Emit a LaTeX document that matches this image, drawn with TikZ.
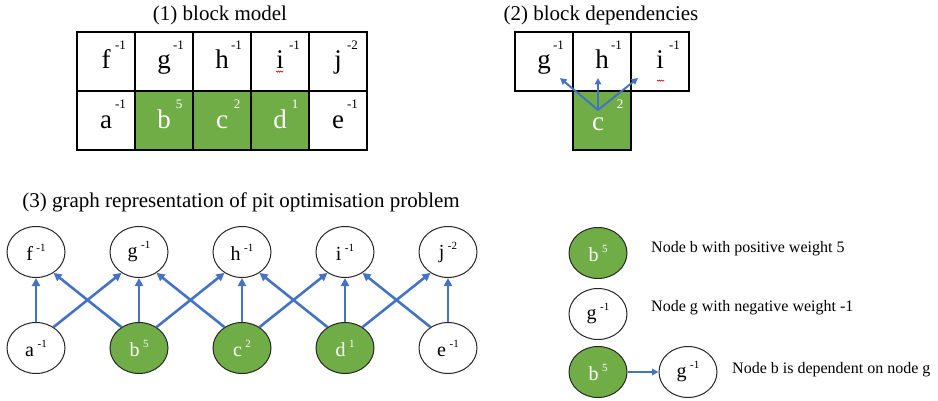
\documentclass[tikz,border=0pt]{standalone}
\usepackage{fontspec}
\setmainfont{Liberation Serif}
\usetikzlibrary{shapes.geometric,arrows.meta}
\definecolor{pgreen}{HTML}{70AD47}
\definecolor{pblue}{HTML}{4472C4}
\newcommand{\wt}[2]{#1\hspace{3.5pt}\raisebox{0.45em}{\fontsize{11}{11}\selectfont #2}}
\begin{document}
\begin{tikzpicture}[x=1pt,y=1pt,
  ttl/.style={font=\fontsize{21}{21}\selectfont, inner sep=0pt},
  cell/.style={draw=black, line width=1.3pt, minimum width=58pt, minimum height=59pt, inner sep=0pt},
  gcell/.style={cell, fill=pgreen},
  let/.style={font=\fontsize{27}{27}\selectfont, inner sep=0pt, anchor=base},
  wlet/.style={let, text=white},
  sup/.style={font=\fontsize{13}{13}\selectfont, inner sep=0pt},
  wsup/.style={sup, text=white},
  vtx/.style={ellipse, draw=black!85, line width=1pt, minimum width=58pt, minimum height=51pt, inner sep=0pt, fill=white, font=\fontsize{20}{20}\selectfont},
  gvtx/.style={vtx, fill=pgreen, text=white},
  dep/.style={draw=pblue, line width=2.6pt, -{Triangle[length=8pt,width=8pt]}},
  sdep/.style={draw=pblue, line width=2pt, -{Triangle[length=6.5pt,width=6.5pt]}},
  legtxt/.style={font=\fontsize{16}{16}\selectfont, inner sep=0pt, anchor=west},
  spell/.style={draw=red!80!black, line width=0.6pt}
]
\useasboundingbox (0,0) rectangle (938,400);

% ---------- (1) block model ----------
\node[ttl] (t1) at (220,385) {(1) block model};
\foreach \n/\x in {f/106,g/164,h/222,i/280,j/338} {
  \node[cell] (c\n) at (\x,338.5) {};
}
\foreach \n/\x in {a/106,b/164,c/222,d/280,e/338} {
  \node[cell] (c\n) at (\x,279.5) {};
}
\node[gcell] (cb) at (164,279.5) {};
\node[gcell] (cc) at (222,279.5) {};
\node[gcell] (cd) at (280,279.5) {};
\foreach \n/\w in {f/-1,g/-1,h/-1,i/-1,j/-2,a/-1,e/-1} {
  \node[let] (l\n) at ([yshift=-7.5pt]c\n.center) {\n};
  \node[sup] (s\n) at ([xshift=14.5pt,yshift=16pt]c\n.center) {\w};
}
\foreach \n/\w in {b/5,c/2,d/1} {
  \node[wlet] (l\n) at ([yshift=-7.5pt]c\n.center) {\n};
  \node[wsup] (s\n) at ([xshift=15pt,yshift=16pt]c\n.center) {\w};
}
\draw[spell] (276,329) -- (277.2,327.8) -- (278.4,329) -- (279.6,327.8) -- (280.8,329) -- (282,327.8) -- (283.2,329);

% ---------- (2) block dependencies ----------
\node[ttl] (t2) at (601,385) {(2) block dependencies};
\node[cell] (dg) at (544,338.5) {};
\node[cell] (dh) at (602,338.5) {};
\node[cell] (di) at (660,338.5) {};
\node[gcell] (dc) at (602,279.5) {};
\foreach \n in {g,h,i} {
  \node[let] (dl\n) at ([yshift=-7.5pt]d\n.center) {\n};
  \node[sup] (ds\n) at ([xshift=14.5pt,yshift=16pt]d\n.center) {-1};
}
\node[wlet] (dlc) at ([xshift=-4pt,yshift=-10pt]dc.center) {c};
\node[wsup] (dsc) at ([xshift=18pt,yshift=16.5pt]dc.center) {2};
\draw[spell] (657,320) -- (658.2,318.8) -- (659.4,320) -- (660.6,318.8) -- (661.8,320) -- (663,318.8) -- (664.2,320);
\coordinate (src) at (598,290);
\coordinate (tg) at (560,322);
\coordinate (th) at (598,322);
\coordinate (ti) at (638,322);
\draw[sdep] (src) -- (tg);
\draw[sdep] (src) -- (th);
\draw[sdep] (src) -- (ti);

% ---------- (3) graph ----------
\node[ttl] (t3) at (241,198) {(3) graph representation of pit optimisation problem};
\node[vtx] (f) at (36,148) {\wt{f}{-1}};
\node[vtx] (g) at (139,148) {\wt{g}{-1}};
\node[vtx] (h) at (242,148) {\wt{h}{-1}};
\node[vtx] (i) at (345,148) {\wt{i}{-1}};
\node[vtx] (j) at (448,148) {\wt{j}{-2}};
\node[vtx] (a) at (36,52) {\wt{a}{-1}};
\node[gvtx] (b) at (139,52) {\wt{b}{5}};
\node[gvtx] (c) at (242,52) {\wt{c}{2}};
\node[gvtx] (d) at (345,52) {\wt{d}{1}};
\node[vtx] (e) at (448,52) {\wt{e}{-1}};
\foreach \u/\v in {a/f,b/g,c/h,d/i,e/j} {
  \draw[dep] (\u.north) -- (\v.south);
}
\foreach \u/\v in {a/g,b/h,c/i,d/j} {
  \draw[dep] (\u.50) -- (\v.230);
}
\foreach \u/\v in {b/f,c/g,d/h,e/i} {
  \draw[dep] (\u.130) -- (\v.310);
}

% ---------- legend ----------
\node[gvtx] (lb1) at (598,147) {\wt{b}{5}};
\node[legtxt] (lt1) at (651,151) {Node b with positive weight 5};
\node[vtx] (lg1) at (598,86) {\wt{g}{-1}};
\node[legtxt] (lt2) at (651,92) {Node g with negative weight -1};
\node[gvtx] (lb2) at (598,28) {\wt{b}{5}};
\node[vtx] (lg2) at (688,28) {\wt{g}{-1}};
\draw[sdep] (lb2) -- (lg2);
\node[legtxt] (lt3) at (732,30) {Node b is dependent on node g};
\end{tikzpicture}
\end{document}
